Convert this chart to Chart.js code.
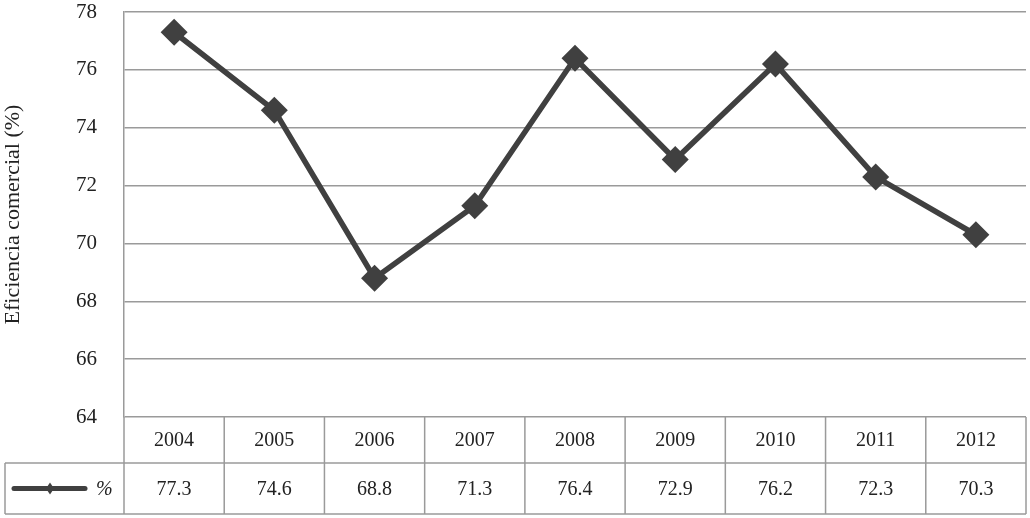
<!DOCTYPE html>
<html lang="es">
<head>
    <meta charset="UTF-8">
    <title>Eficiencia comercial</title>
    <style>
        body {
            margin: 0;
            padding: 0;
            background-color: #fff;
        }

        .chart-wrap {
            width: 1030px;
            height: 518px;
            position: relative;
        }
    </style>
</head>
<body>
<div class="chart-wrap">
    <canvas id="efChart"></canvas>
</div>
<script src="https://cdn.jsdelivr.net/npm/chart.js"></script>
<script>
    const years = ['2004', '2005', '2006', '2007', '2008', '2009', '2010', '2011', '2012'];
    const efficiency = [77.3, 74.6, 68.8, 71.3, 76.4, 72.9, 76.2, 72.3, 70.3];
    const seriesLabel = '%';
    const yTitle = 'Eficiencia comercial (%)';

    const serif = '"Liberation Serif", "DejaVu Serif", serif';
    const lineGray = '#9a9a9a';
    const markColor = '#404040';

    // Data table under the plot (year row + values row with legend key)
    const dataTable = {
        id: 'dataTable',
        afterDraw(chart) {
            const ctx = chart.ctx;
            const area = chart.chartArea;
            const x = chart.scales.x;
            const rowH1 = 46, rowH2 = 51;
            const top = area.bottom;
            const mid = top + rowH1;
            const bottom = mid + rowH2;
            const legendLeft = 5;
            const colW = (area.right - area.left) / years.length;

            ctx.save();
            ctx.strokeStyle = lineGray;
            ctx.lineWidth = 1.5;

            ctx.beginPath();
            ctx.moveTo(area.left, mid); ctx.lineTo(area.right, mid);
            ctx.moveTo(legendLeft, mid); ctx.lineTo(area.left, mid);
            ctx.moveTo(legendLeft, bottom); ctx.lineTo(area.right, bottom);
            ctx.moveTo(legendLeft, mid); ctx.lineTo(legendLeft, bottom);
            for (let i = 0; i <= years.length; i++) {
                const cx = area.left + i * colW;
                ctx.moveTo(cx, top); ctx.lineTo(cx, bottom);
            }
            ctx.stroke();

            ctx.fillStyle = '#222';
            ctx.font = '20px ' + serif;
            ctx.textAlign = 'center';
            ctx.textBaseline = 'middle';
            years.forEach((y, i) => {
                const px = x.getPixelForValue(i);
                ctx.fillText(y, px, top + rowH1 / 2 + 1);
                ctx.fillText(efficiency[i].toFixed(1), px, mid + rowH2 / 2 + 1);
            });

            // legend key
            const ly = mid + rowH2 / 2;
            ctx.strokeStyle = markColor;
            ctx.lineWidth = 5;
            ctx.lineCap = 'round';
            ctx.beginPath();
            ctx.moveTo(14, ly); ctx.lineTo(85, ly);
            ctx.stroke();
            ctx.fillStyle = markColor;
            ctx.beginPath();
            ctx.moveTo(50, ly - 6); ctx.lineTo(54, ly); ctx.lineTo(50, ly + 6); ctx.lineTo(46, ly);
            ctx.closePath();
            ctx.fill();

            ctx.fillStyle = '#222';
            ctx.font = 'italic 20px ' + serif;
            ctx.textAlign = 'left';
            ctx.fillText(seriesLabel, 96, ly + 1);
            ctx.restore();
        }
    };

    new Chart(document.getElementById('efChart').getContext('2d'), {
        type: 'line',
        data: {
            labels: years,
            datasets: [{
                label: seriesLabel,
                data: efficiency,
                borderColor: markColor,
                backgroundColor: markColor,
                borderWidth: 5.5,
                pointStyle: 'rectRot',
                pointRadius: 13.5,
                pointHoverRadius: 13.5,
                pointBorderWidth: 0,
                tension: 0,
                clip: false
            }]
        },
        options: {
            responsive: true,
            maintainAspectRatio: false,
            animation: false,
            layout: {
                autoPadding: false,
                padding: { left: 0, right: 4, top: 12, bottom: 101 }
            },
            plugins: {
                legend: { display: false },
                tooltip: { enabled: false }
            },
            scales: {
                x: {
                    display: false,
                    offset: true
                },
                y: {
                    min: 64,
                    max: 78,
                    afterFit(scale) {
                        scale.width = 124;
                        scale.paddingTop = 0; scale.paddingBottom = 0;
                    },
                    ticks: {
                        stepSize: 2,
                        padding: 27,
                        color: '#222',
                        font: { family: serif, size: 21 }
                    },
                    grid: {
                        color: lineGray,
                        lineWidth: 1.5,
                        drawTicks: false
                    },
                    border: { color: lineGray, width: 1.5 },
                    title: {
                        display: true,
                        text: yTitle,
                        color: '#222',
                        font: { family: serif, size: 22 },
                        padding: { top: 0, bottom: 0 }
                    }
                }
            }
        },
        plugins: [dataTable]
    });
</script>
</body>
</html>
